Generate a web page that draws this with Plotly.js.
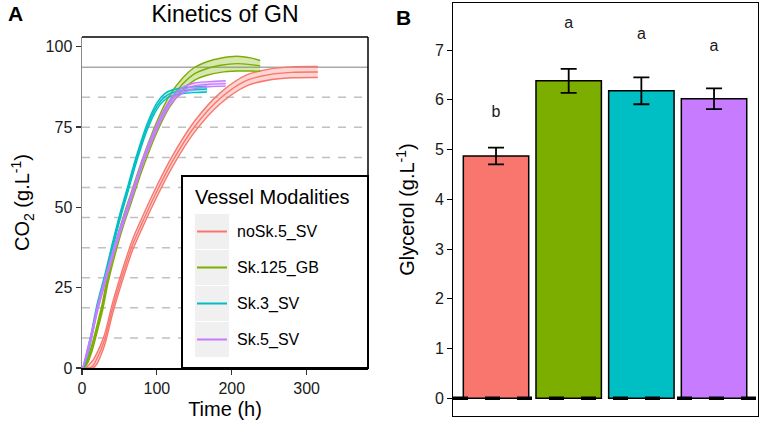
<!DOCTYPE html>
<html><head><meta charset="utf-8">
<script src="https://cdn.plot.ly/plotly-3.0.1.min.js"></script>
<style>html,body{margin:0;padding:0;background:#fff}#chart{width:761px;height:425px}</style>
</head><body><div id="chart"></div>
<script>
// ---------- categories & colours ----------
const modalities = ['noSk.5_SV', 'Sk.125_GB', 'Sk.3_SV', 'Sk.5_SV'];
const colors = ['#F8766D', '#7CAE00', '#00BFC4', '#C77CFF'];
const bandFills = ['rgba(248,118,109,0.3)', 'rgba(124,174,0,0.3)', 'rgba(0,191,196,0.3)', 'rgba(199,124,255,0.3)'];

// ---------- Panel A : CO2 kinetics (mean curve + band) ----------
const timeNoSk5 = [5, 10, 15, 20, 25, 31, 41, 53, 67, 80, 100, 120, 150, 185, 220, 250, 280, 315];
const co2NoSk5  = [0, 0, 0.8, 3, 5.5, 9.4, 18.7, 28.1, 38, 45, 55, 64, 75, 84, 89.5, 91.3, 92, 92.1];
const lowNoSk5  = [0, 0, 0, 1.3, 3.8, 7.7, 17, 26.4, 36.3, 43.3, 53.3, 62.3, 73.3, 82.3, 87.8, 89.6, 90.3, 90.4];
const highNoSk5 = [0, 1.2, 2.5, 4.7, 7.2, 11.1, 20.4, 29.8, 39.7, 46.7, 56.7, 65.7, 76.7, 85.7, 91.2, 93, 93.7, 93.8];

const timeSk125 = [3, 8, 13, 17, 22, 27, 35, 45, 55, 65, 80, 100, 117, 135, 150, 167, 185, 207, 225, 238];
const co2Sk125  = [0, 2.5, 6, 9.4, 14, 18.7, 28.1, 37.5, 45.5, 52.5, 63, 75, 83, 88.5, 91.5, 93.2, 94.2, 94.7, 94.4, 94.0];
const lowSk125  = [0, 1.7, 5, 8.3, 12.8, 17.4, 26.7, 36, 44, 50.9, 61.4, 73.3, 81.2, 86.6, 89.5, 91.1, 92, 92.4, 92.4, 92.3];
const highSk125 = [0, 3.3, 7, 10.5, 15.2, 20, 29.5, 39, 47, 54.1, 64.6, 76.7, 84.8, 90.4, 93.5, 95.3, 96.4, 97, 96.5, 95.7];

const timeSk3 = [2, 7, 12, 20, 31, 40, 50, 62, 72, 87, 100, 110, 120, 135, 150, 167];
const co2Sk3  = [0, 4.5, 9.4, 18.7, 28.5, 37.3, 46.5, 56.3, 64.5, 75, 81.5, 84.3, 85.6, 86.3, 86.6, 86.8];
const lowSk3  = [0, 3.6, 8.4, 17.7, 27.5, 36.3, 45.5, 55.3, 63.5, 74, 80.5, 83.3, 84.7, 85.4, 85.7, 85.9];
const highSk3 = [0, 5.4, 10.4, 19.7, 29.5, 38.3, 47.5, 57.3, 65.5, 76, 82.5, 85.3, 86.5, 87.2, 87.5, 87.7];

const timeSk5 = [1, 6, 12, 21, 32, 45, 59, 71, 83, 100, 112, 122, 135, 150, 170, 192];
const co2Sk5  = [0, 4, 9.4, 18.7, 28.1, 38.5, 48.5, 57, 65.5, 75, 80.5, 84, 86.5, 87.8, 88.3, 88.5];
const lowSk5  = [0, 3.2, 8.5, 17.8, 27.2, 37.6, 47.6, 56.1, 64.6, 74.1, 79.6, 83.1, 85.6, 86.9, 87.5, 87.7];
const highSk5 = [0, 4.8, 10.3, 19.6, 29, 39.4, 49.4, 57.9, 66.4, 75.9, 81.4, 84.9, 87.4, 88.7, 89.1, 89.4];

const maxCO2 = 93.6;                       // reference level (solid line)
const levelFractions = [0.1, 0.2, 0.3, 0.4, 0.5, 0.6, 0.7, 0.8, 0.9]; // dashed lines
const timeTicks = [0, 100, 200, 300];
const co2Ticks = [0, 25, 50, 75, 100];

// ---------- Panel B : Glycerol ----------
const glycerol = [4.87, 6.38, 6.18, 6.02];
const glycerolErr = [0.17, 0.24, 0.27, 0.21];
const groupLetters = ['b', 'a', 'a', 'a'];
const letterY = [5.73, 7.52, 7.30, 7.07];
const glycerolTicks = [0, 1, 2, 3, 4, 5, 6, 7];

// ---------- build ----------
const FONT = 'Liberation Sans, Arial, Helvetica, sans-serif';
const W = 761, H = 425;
const px = v => v / W, py = v => 1 - v / H;

const series = [
  {t: timeNoSk5, m: co2NoSk5, lo: lowNoSk5, hi: highNoSk5},
  {t: timeSk125, m: co2Sk125, lo: lowSk125, hi: highSk125},
  {t: timeSk3,   m: co2Sk3,   lo: lowSk3,   hi: highSk3},
  {t: timeSk5,   m: co2Sk5,   lo: lowSk5,   hi: highSk5}
];

const traces = [];
series.forEach((s, i) => {
  const line = {color: colors[i], width: 1.4, shape: 'spline', smoothing: 0.8};
  traces.push({type: 'scatter', mode: 'lines', x: s.t, y: s.lo, line: line,
               xaxis: 'x', yaxis: 'y', showlegend: false, hoverinfo: 'skip', name: modalities[i]});
  traces.push({type: 'scatter', mode: 'lines', x: s.t, y: s.hi, line: line, fill: 'tonexty',
               fillcolor: bandFills[i], xaxis: 'x', yaxis: 'y', showlegend: false, hoverinfo: 'skip', name: modalities[i]});
  traces.push({type: 'scatter', mode: 'lines', x: s.t, y: s.m, line: line,
               xaxis: 'x', yaxis: 'y', showlegend: false, name: modalities[i]});
});

traces.push({
  type: 'bar', x: modalities, y: glycerol, width: 0.9,
  marker: {color: colors, line: {color: '#000', width: 1.5}},
  error_y: {type: 'data', array: glycerolErr, visible: true, color: '#000', thickness: 1.8, width: 8},
  xaxis: 'x2', yaxis: 'y2', showlegend: false
});
traces.push({
  type: 'scatter', mode: 'text', x: modalities, y: letterY, text: groupLetters,
  textfont: {family: FONT, size: 16, color: '#1a1a1a'}, textposition: 'middle center',
  xaxis: 'x2', yaxis: 'y2', showlegend: false, hoverinfo: 'skip'
});

const shapes = [];
shapes.push({type: 'line', xref: 'x', yref: 'y', x0: 0, x1: 382, y0: maxCO2, y1: maxCO2,
             line: {color: '#a9a9a9', width: 1.5}, layer: 'below'});
levelFractions.forEach(f => shapes.push({type: 'line', xref: 'x', yref: 'y', x0: 0, x1: 382,
  y0: maxCO2 * f, y1: maxCO2 * f, line: {color: '#c0c0c0', width: 1.5, dash: '8px,8px'}, layer: 'below'}));
// panel A top/right border
shapes.push({type: 'line', xref: 'x domain', yref: 'y domain', x0: 0, x1: 1, y0: 1, y1: 1, line: {color: '#000', width: 1.5}});
shapes.push({type: 'line', xref: 'x domain', yref: 'y domain', x0: 1, x1: 1, y0: 0, y1: 1, line: {color: '#000', width: 1.5}});
// panel B dashed zero line
shapes.push({type: 'line', xref: 'x2 domain', yref: 'y2', x0: 0, x1: 1, y0: 0, y1: 0,
             line: {color: '#000', width: 3.5, dash: '15px,17px'}, layer: 'above'});
// legend box
shapes.push({type: 'rect', xref: 'paper', yref: 'paper', x0: px(182), x1: px(368), y0: py(368), y1: py(176),
             fillcolor: '#fff', line: {color: '#000', width: 2}, layer: 'above'});
const annotations = [];
annotations.push({xref: 'paper', yref: 'paper', x: px(193), y: py(197), xanchor: 'left', yanchor: 'middle',
  text: 'Vessel Modalities', showarrow: false, font: {family: FONT, size: 20, color: '#000'}});
modalities.forEach((m, i) => {
  const top = 214 + i * 36, cy = top + 17.5;
  shapes.push({type: 'rect', xref: 'paper', yref: 'paper', x0: px(195), x1: px(229), y0: py(top + 35), y1: py(top),
               fillcolor: '#f0f0f0', line: {width: 0}, layer: 'above'});
  shapes.push({type: 'line', xref: 'paper', yref: 'paper', x0: px(197), x1: px(227), y0: py(cy), y1: py(cy),
               line: {color: colors[i], width: 2}, layer: 'above'});
  annotations.push({xref: 'paper', yref: 'paper', x: px(235), y: py(cy), xanchor: 'left', yanchor: 'middle',
    text: m, showarrow: false, font: {family: FONT, size: 16, color: '#000'}});
});
annotations.push({xref: 'paper', yref: 'paper', x: px(15), y: py(13), xanchor: 'center', yanchor: 'middle',
  text: '<b>A</b>', showarrow: false, font: {family: FONT, size: 21, color: '#000'}});
annotations.push({xref: 'paper', yref: 'paper', x: px(404), y: py(17), xanchor: 'center', yanchor: 'middle',
  text: '<b>B</b>', showarrow: false, font: {family: FONT, size: 21, color: '#000'}});

const tickFont = {family: FONT, size: 16, color: '#1a1a1a'};
const layout = {
  width: W, height: H, margin: {l: 0, r: 0, t: 0, b: 0},
  paper_bgcolor: '#fff', plot_bgcolor: 'rgba(0,0,0,0)',
  font: {family: FONT, color: '#000'},
  showlegend: false,
  title: {text: 'Kinetics of GN', x: px(225), xanchor: 'center', y: py(14), yanchor: 'middle',
          font: {family: FONT, size: 23, color: '#000'}},
  xaxis: {domain: [px(82), px(368)], range: [0, 382], tickvals: timeTicks, ticks: 'outside', ticklen: 5,
          tickcolor: '#333', tickwidth: 1.2, tickfont: tickFont, showgrid: false, zeroline: false,
          showline: true, linecolor: '#000', linewidth: 2, anchor: 'y',
          title: {text: 'Time (h)', font: {family: FONT, size: 20, color: '#000'}, standoff: 6}},
  yaxis: {domain: [py(368), py(37)], range: [0, 103], tickvals: co2Ticks, ticks: 'outside', ticklen: 5,
          tickcolor: '#333', tickwidth: 1.2, tickfont: tickFont, showgrid: false, zeroline: false,
          showline: true, linecolor: '#8a8a8a', linewidth: 1.5, anchor: 'x',
          title: {text: 'CO<sub>2</sub> (g.L<sup>-1</sup>)', font: {family: FONT, size: 20, color: '#000'}, standoff: 10}},
  xaxis2: {domain: [px(453), px(758)], range: [-0.592, 3.605], type: 'category', showticklabels: false,
           ticks: '', showgrid: false, zeroline: false, showline: true, mirror: true, linecolor: '#000', linewidth: 1, anchor: 'y2'},
  yaxis2: {domain: [py(416), py(3)], range: [-0.356, 7.945], tickvals: glycerolTicks, ticks: 'outside', ticklen: 5,
           tickcolor: '#000', tickwidth: 1, tickfont: tickFont, showgrid: false, zeroline: false,
           showline: true, mirror: true, linecolor: '#000', linewidth: 1, anchor: 'x2',
           title: {text: 'Glycerol (g.L<sup>-1</sup>)', font: {family: FONT, size: 20, color: '#000'}, standoff: 14}},
  shapes: shapes, annotations: annotations
};

Plotly.newPlot('chart', traces, layout, {displayModeBar: false, staticPlot: true});
</script>
</body></html>
